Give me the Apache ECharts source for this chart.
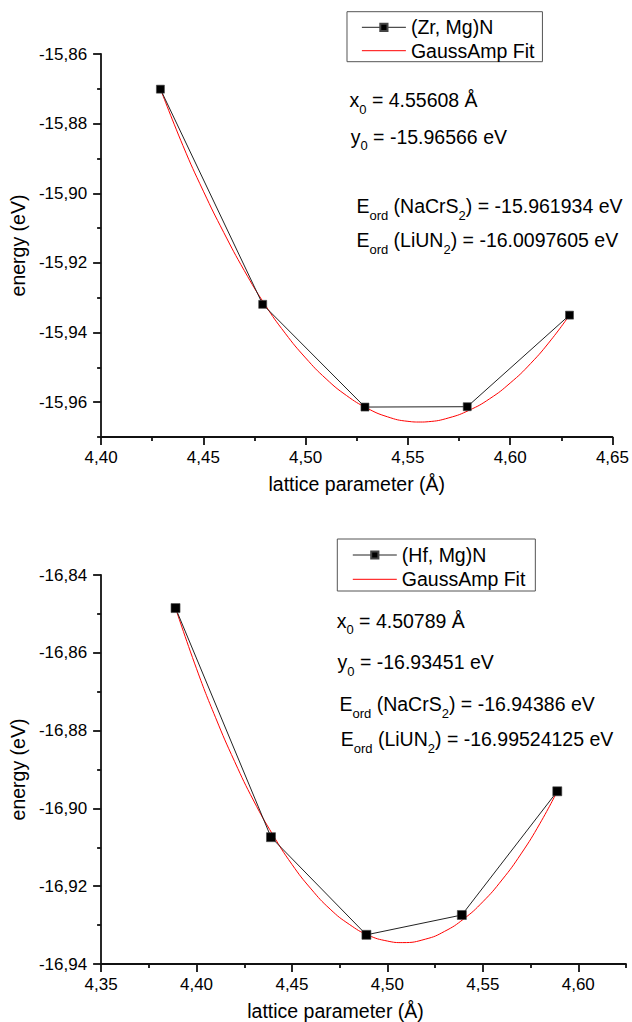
<!DOCTYPE html>
<html><head><meta charset="utf-8">
<script src="https://cdn.jsdelivr.net/npm/echarts@6/dist/echarts.min.js"></script>
<style>html,body{margin:0;padding:0;background:#fff}#c{width:632px;height:1022px}</style>
</head><body><div id="c"></div>
<script>
// ---------- data: top panel (Zr, Mg)N ----------
const topName = '(Zr, Mg)N';
const topX = [4.429, 4.479, 4.529, 4.579, 4.629];
const topE = [-15.8701, -15.9319, -15.9614, -15.9613, -15.9350];
const topFitX = [4.429, 4.44, 4.45, 4.46, 4.47, 4.48, 4.49, 4.50, 4.51, 4.52, 4.53, 4.54, 4.55, 4.556, 4.56, 4.57, 4.58, 4.59, 4.60, 4.61, 4.62, 4.629];
const topFitE = [-15.8700, -15.8863, -15.8994, -15.9113, -15.9222, -15.9319, -15.9402, -15.9473, -15.9533, -15.9581, -15.9617, -15.9642, -15.9655, -15.9657, -15.9656, -15.9645, -15.9623, -15.9590, -15.9545, -15.9489, -15.9421, -15.9350];
const topXTicks = [4.40, 4.45, 4.50, 4.55, 4.60, 4.65];
const topXMinor = [4.425, 4.475, 4.525, 4.575, 4.625];
const topYTicks = [-15.96, -15.94, -15.92, -15.90, -15.88, -15.86];
const topYMinor = [-15.97, -15.95, -15.93, -15.91, -15.89, -15.87];

// ---------- data: bottom panel (Hf, Mg)N ----------
const botName = '(Hf, Mg)N';
const botX = [4.389, 4.439, 4.489, 4.539, 4.589];
const botE = [-16.8485, -16.9074, -16.9325, -16.9274, -16.8956];
const botFitX = [4.389, 4.40, 4.41, 4.42, 4.43, 4.44, 4.45, 4.46, 4.47, 4.48, 4.49, 4.50, 4.508, 4.52, 4.53, 4.54, 4.55, 4.56, 4.57, 4.58, 4.589];
const botFitE = [-16.8485, -16.8641, -16.8767, -16.8880, -16.8981, -16.9068, -16.9144, -16.9207, -16.9259, -16.9298, -16.9326, -16.9341, -16.9345, -16.9336, -16.9316, -16.9284, -16.9240, -16.9184, -16.9117, -16.9038, -16.8956];
const botXTicks = [4.35, 4.40, 4.45, 4.50, 4.55, 4.60];
const botXMinor = [4.375, 4.425, 4.475, 4.525, 4.575, 4.625];
const botYTicks = [-16.94, -16.92, -16.90, -16.88, -16.86, -16.84];
const botYMinor = [-16.93, -16.91, -16.89, -16.87, -16.85];

const fitName = 'GaussAmp Fit';
const xTitle = 'lattice parameter (Å)';
const yTitle = 'energy (eV)';

const FONT = 'Liberation Sans, Arial, Helvetica, sans-serif';
const zip = (a, b) => a.map((v, i) => [v, b[i]]);
const fmt = v => (+v).toFixed(2).replace('.', ',');
const axLine = { show: true, onZero: false, lineStyle: { color: '#111', width: 1.8 } };

function mainX(grid, min, max, ticks, name, namePad) {
  return {
    type: 'value', gridIndex: grid, min, max, position: 'bottom',
    axisLine: axLine,
    axisTick: { show: true, length: 8, customValues: ticks, lineStyle: { color: '#111', width: 1.8 } },
    axisLabel: { customValues: ticks, formatter: fmt, fontSize: 17, color: '#000', fontFamily: FONT, margin: 12 },
    splitLine: { show: false },
    name, nameLocation: 'middle', nameGap: 37,
    nameTextStyle: { fontSize: 19.5, color: '#000', fontFamily: FONT, padding: namePad }
  };
}
function minorX(grid, min, max, ticks) {
  return {
    type: 'value', gridIndex: grid, min, max, position: 'bottom',
    axisLine: { show: false, onZero: false },
    axisTick: { show: true, length: 4, customValues: ticks, lineStyle: { color: '#111', width: 1.8 } },
    axisLabel: { show: false }, splitLine: { show: false }
  };
}
function mainY(grid, min, max, ticks, gap) {
  return {
    type: 'value', gridIndex: grid, min, max, position: 'left',
    axisLine: axLine,
    axisTick: { show: true, length: 8, customValues: ticks, lineStyle: { color: '#111', width: 1.8 } },
    axisLabel: { customValues: ticks, formatter: fmt, fontSize: 17, color: '#000', fontFamily: FONT, margin: 14 },
    splitLine: { show: false },
    name: yTitle, nameLocation: 'middle', nameRotate: 90, nameGap: gap,
    nameTextStyle: { fontSize: 19.5, color: '#000', fontFamily: FONT }
  };
}
function minorY(grid, min, max, ticks) {
  return {
    type: 'value', gridIndex: grid, min, max, position: 'left',
    axisLine: { show: false, onZero: false },
    axisTick: { show: true, length: 4, customValues: ticks, lineStyle: { color: '#111', width: 1.8 } },
    axisLabel: { show: false }, splitLine: { show: false }
  };
}

const rich = {
  m: { fontSize: 19.5, lineHeight: 20, verticalAlign: 'top', fill: '#000', fontFamily: FONT },
  s: { fontSize: 13, lineHeight: 13, verticalAlign: 'top', padding: [12.5, 0, 0, 0], fill: '#000', fontFamily: FONT }
};
function ann(left, top, text) {
  return { type: 'text', left, top, silent: true, style: { text, rich, fill: '#000', font: '19.5px ' + FONT } };
}

function legend(dataName, left, top, pad, gap) {
  return {
    data: [
      { name: dataName, lineStyle: { width: 1 } },
      { name: fitName, itemStyle: { opacity: 0 }, lineStyle: { width: 1 } }
    ],
    orient: 'vertical', left, top, padding: pad, itemGap: gap,
    itemWidth: 44, itemHeight: 9, borderColor: '#555', borderWidth: 1, selectedMode: false,
    textStyle: { fontSize: 19.5, lineHeight: 20, color: '#000', fontFamily: FONT }
  };
}

const fitSeries = (xi, yi, xs, ys) => ({
  name: fitName, type: 'line', xAxisIndex: xi, yAxisIndex: yi, data: zip(xs, ys),
  smooth: true, symbol: 'none', lineStyle: { color: '#ff0000', width: 1 }, itemStyle: { color: '#ff0000' }, z: 3
});
const dataSeries = (name, xi, yi, xs, ys, size) => ({
  name, type: 'line', xAxisIndex: xi, yAxisIndex: yi, data: zip(xs, ys),
  symbol: 'rect', symbolSize: size, showSymbol: true,
  lineStyle: { color: '#222', width: 1 }, itemStyle: { color: '#000', borderColor: '#444', borderWidth: 0.6 }, z: 4
});

const option = {
  backgroundColor: '#fff',
  animation: false,
  grid: [
    { left: 100, top: 54, width: 513, height: 383 },
    { left: 99, top: 575, width: 527, height: 390 }
  ],
  xAxis: [
    mainX(0, 4.40, 4.65, topXTicks, xTitle, [0, 0, 0, 0]),
    minorX(0, 4.40, 4.65, topXMinor),
    mainX(1, 4.35, 4.625, botXTicks, xTitle, [0, 56, 0, 0]),
    minorX(1, 4.35, 4.625, botXMinor)
  ],
  yAxis: [
    mainY(0, -15.97, -15.86, topYTicks, 66),
    minorY(0, -15.97, -15.86, topYMinor),
    mainY(1, -16.94, -16.84, botYTicks, 67),
    minorY(1, -16.94, -16.84, botYMinor)
  ],
  legend: [
    legend(topName, 347, 11.7, [5.6, 8, 1, 14.4], 3.4),
    legend(botName, 337.3, 539, [6, 10, 1.7, 15], 4.3)
  ],
  series: [
    fitSeries(0, 0, topFitX, topFitE),
    dataSeries(topName, 0, 0, topX, topE, 8),
    fitSeries(2, 2, botFitX, botFitE),
    dataSeries(botName, 2, 2, botX, botE, 9)
  ],
  graphic: [
    ann(349.5, 90, '{m|x}{s|0}{m| = 4.55608 Å}'),
    ann(350.7, 126.7, '{m|y}{s|0}{m| = -15.96566 eV}'),
    ann(356.4, 196, '{m|E}{s|ord}{m| (NaCrS}{s|2}{m|) = -15.961934 eV}'),
    ann(356.4, 230, '{m|E}{s|ord}{m| (LiUN}{s|2}{m|) = -16.0097605 eV}'),
    ann(336.7, 610.7, '{m|x}{s|0}{m| = 4.50789 Å}'),
    ann(337.5, 652.3, '{m|y}{s|0}{m| = -16.93451 eV}'),
    ann(339.5, 694, '{m|E}{s|ord}{m| (NaCrS}{s|2}{m|) = -16.94386 eV}'),
    ann(340.7, 729, '{m|E}{s|ord}{m| (LiUN}{s|2}{m|) = -16.99524125 eV}')
  ]
};

const chart = echarts.init(document.getElementById('c'), null, { renderer: 'svg', width: 632, height: 1022 });
chart.setOption(option);
</script>
</body></html>
